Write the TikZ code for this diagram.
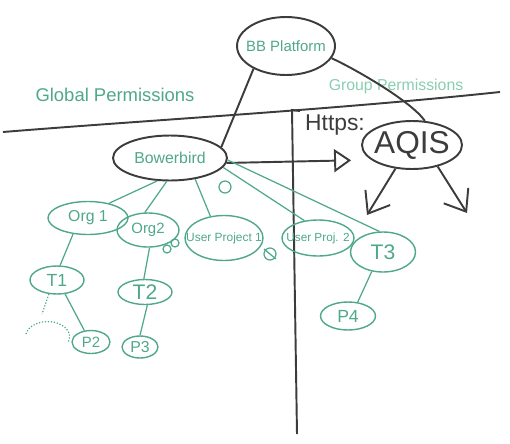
\documentclass[tikz,border=0pt]{standalone}
\usepackage{fontspec}
\setmainfont{Liberation Sans}
\usetikzlibrary{shapes.geometric,arrows.meta}
\definecolor{marker}{HTML}{4FA888}
\definecolor{markerlight}{HTML}{8ACDB2}
\definecolor{pen}{HTML}{3C3C3C}
\newcommand{\fitin}[1]{\makebox[0pt]{#1}}
\newcommand{\fs}[1]{\fontsize{#1}{#1}\selectfont}
\begin{document}
\begin{tikzpicture}[x=0.02cm,y=-0.02cm,
	bubble/.style={ellipse,draw=marker,line width=0.8pt,inner sep=0pt,text=marker},
	penbubble/.style={ellipse,draw=pen,line width=1.1pt,inner sep=0pt},
	greenline/.style={marker,line width=0.7pt},
	penline/.style={pen,line width=1.1pt}]
	\useasboundingbox (0,0) rectangle (510,443);
	% dividers
	\draw[penline] (3,132) .. controls (150,120) and (330,110) .. (500,92);
	\draw[penline] (300,111) -- (292,110) -- (297,434);
	\node[text=marker,font=\fs{10.5}] (global) at (115,95) {Global Permissions};
	\node[text=markerlight,font=\fs{9}] (group) at (396,86) {Group Permissions};
	\node[text=pen,font=\fs{13}] (https) at (335,125) {Https:};
	% platform and services
	\node[penbubble,text=marker,minimum width=1.96cm,minimum height=1.16cm,font=\fs{8.5}] (bb) at (286,46) {\fitin{BB Platform}};
	\node[penbubble,text=pen,minimum width=2.0cm,minimum height=0.96cm,font=\fs{18}] (aqis) at (412,145) {\fitin{AQIS}};
	\node[penbubble,text=marker,minimum width=2.28cm,minimum height=0.9cm,font=\fs{9}] (bower) at (170,158) {\fitin{Bowerbird}};
	% orgs, projects, teams
	\node[bubble,minimum width=1.6cm,minimum height=0.66cm,font=\fs{9}] (org1) at (88,218) {\fitin{Org 1}};
	\node[bubble,minimum width=1.24cm,minimum height=0.68cm,font=\fs{8.5}] (org2) at (148,230) {\fitin{Org2}};
	\node[bubble,minimum width=1.56cm,minimum height=0.9cm,font=\fs{6.8}] (up1) at (224,238) {\fitin{User Project 1}};
	\node[bubble,minimum width=1.44cm,minimum height=0.72cm,font=\fs{6.7}] (up2) at (318,238) {\fitin{User Proj. 2}};
	\node[bubble,minimum width=1.3cm,minimum height=0.8cm,font=\fs{12}] (t3) at (383,252) {\fitin{T3}};
	\node[bubble,minimum width=1.08cm,minimum height=0.56cm,font=\fs{10}] (t1) at (57,280) {\fitin{T1}};
	\node[bubble,minimum width=1.08cm,minimum height=0.5cm,font=\fs{12}] (t2) at (145,292) {\fitin{T2}};
	\node[bubble,minimum width=0.76cm,minimum height=0.46cm,font=\fs{8.5}] (p2) at (91,342) {\fitin{P2}};
	\node[bubble,minimum width=0.72cm,minimum height=0.44cm,font=\fs{9}] (p3) at (140,347) {\fitin{P3}};
	\node[bubble,minimum width=1.1cm,minimum height=0.56cm,font=\fs{10}] (p4) at (348,316) {\fitin{P4}};
	\coordinate (p1) at (42,314);
	\coordinate (qa) at (367,215);
	\coordinate (qb) at (467,213);
	% black pen links
	\draw[penline] (bb.215) -- (bower.12);
	\draw[penline] (bb.345) .. controls +(22,10) and +(-14,-20) .. (aqis.62);
	\draw[penline,-{Triangle[open,length=0.34cm,width=0.46cm]},shorten >=0.4cm] (bower.355) -- (aqis.200);
	\draw[penline,-{Straight Barb[length=0.38cm,width=0.58cm]}] (aqis.235) -- (qa);
	\draw[penline,-{Straight Barb[length=0.38cm,width=0.58cm]}] (aqis.320) -- (qb);
	% green marker links
	\draw[greenline] (bower.241) -- (org1.35);
	\draw[greenline] (bower.262) -- (org2.100);
	\draw[greenline] (bower.320) -- (up1.122);
	\draw[greenline] (bower.350) -- (up2.128);
	\draw[greenline] (bower.358) -- (t3.100);
	\draw[greenline] (org1.227) -- (t1.78);
	\draw[greenline] (org2.275) -- (t2.95);
	\draw[greenline] (t1.300) -- (p2.120);
	\draw[greenline,densely dotted] (t1.240) -- (p1);
	\draw[greenline] (t2.280) -- (p3.90);
	\draw[greenline] (t3.240) -- (p4.55);
	% faded P1 and doodles
	\draw[greenline,densely dotted] (26,334) arc[start angle=170,end angle=-20,x radius=0.44cm,y radius=0.3cm];
	\draw[greenline] (225,187) circle[radius=0.12cm];
	\draw[greenline] (167,249) circle[radius=0.08cm];
	\draw[greenline] (175,243) circle[radius=0.08cm];
	\draw[greenline] (270,254) circle[radius=0.12cm];
	\draw[greenline] (264,249) -- (276,259);
\end{tikzpicture}
\end{document}
